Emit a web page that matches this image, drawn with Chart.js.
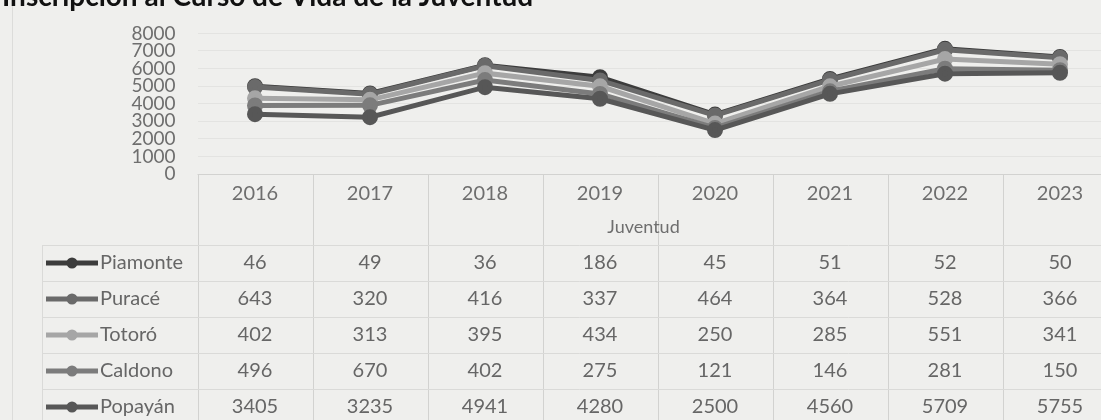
<!DOCTYPE html>
<html>
<head>
<meta charset="utf-8">
<script src="https://cdn.jsdelivr.net/npm/chart.js@4/dist/chart.umd.min.js"></script>
<style>
  html, body { margin: 0; padding: 0; background: #efefed; overflow: hidden; }
  #wrap { position: relative; width: 1101px; height: 420px; overflow: hidden; }
  #box { position: absolute; left: 0; top: 0; width: 1130px; height: 420px; }
</style>
</head>
<body>
<div id="wrap"><div id="box"><canvas id="c" width="1130" height="420"></canvas></div></div>
<script>
const titleText = 'Inscripción al Curso de Vida de la Juventud';
const axisTitle = 'Juventud';
const years = ['2016','2017','2018','2019','2020','2021','2022','2023'];
const yTicks = [0,1000,2000,3000,4000,5000,6000,7000,8000];

const piamonte = [46, 49, 36, 186, 45, 51, 52, 50];
const purace   = [643, 320, 416, 337, 464, 364, 528, 366];
const totoro   = [402, 313, 395, 434, 250, 285, 551, 341];
const caldono  = [496, 670, 402, 275, 121, 146, 281, 150];
const popayan  = [3405, 3235, 4941, 4280, 2500, 4560, 5709, 5755];

const seriesNames  = ['Piamonte', 'Puracé', 'Totoró', 'Caldono', 'Popayán'];
const seriesValues = [piamonte, purace, totoro, caldono, popayan];
const seriesColors = ['#3c3c3c', '#6a6a6a', '#a6a6a6', '#7c7c7c', '#575757'];

const FONT = 'Lato, "Open Sans", sans-serif';

// Stack from bottom (Popayán) to top (Piamonte)
const datasets = [];
for (let i = seriesNames.length - 1; i >= 0; i--) {
  datasets.push({
    label: seriesNames[i],
    data: seriesValues[i],
    borderColor: seriesColors[i],
    backgroundColor: seriesColors[i],
    pointBackgroundColor: seriesColors[i],
    pointBorderColor: seriesColors[i],
    borderWidth: 5,
    pointRadius: 5.5,
    pointHoverRadius: 5.5,
    fill: false,
    tension: 0
  });
}

const tablePlugin = {
  id: 'tablePlugin',
  beforeDraw(chart) {
    const ctx = chart.ctx;
    ctx.save();
    ctx.fillStyle = '#efefed';
    ctx.fillRect(0, 0, chart.width, chart.height);
    ctx.restore();
  },
  afterDraw(chart) {
    const ctx = chart.ctx;
    const x = chart.scales.x;
    const area = chart.chartArea;
    const n = years.length;
    const colW = x.getPixelForValue(1) - x.getPixelForValue(0);
    const leftEdge = x.getPixelForValue(0) - colW / 2;
    const rightEdge = x.getPixelForValue(n - 1) + colW / 2;
    const rowTop0 = 245, rowH = 36;
    const tableBottom = rowTop0 + rowH * seriesNames.length;
    ctx.save();
    ctx.strokeStyle = '#dcdcda';
    ctx.lineWidth = 1;
    ctx.beginPath(); ctx.moveTo(12.5, 0); ctx.lineTo(12.5, 420); ctx.stroke();

    ctx.strokeStyle = '#d2d2d0';
    ctx.beginPath(); ctx.moveTo(leftEdge, area.bottom + 0.5); ctx.lineTo(rightEdge, area.bottom + 0.5); ctx.stroke();
    for (let i = 0; i <= n; i++) {
      const xx = Math.round(leftEdge + i * colW) + 0.5;
      ctx.beginPath(); ctx.moveTo(xx, area.bottom); ctx.lineTo(xx, tableBottom); ctx.stroke();
    }
    ctx.strokeStyle = '#dadad8';
    for (let r = 0; r <= seriesNames.length; r++) {
      const yy = rowTop0 + r * rowH + 0.5;
      ctx.beginPath(); ctx.moveTo(42, yy); ctx.lineTo(rightEdge, yy); ctx.stroke();
    }
    ctx.beginPath(); ctx.moveTo(42.5, rowTop0); ctx.lineTo(42.5, tableBottom); ctx.stroke();

    ctx.font = '20px ' + FONT;
    ctx.fillStyle = '#6e6e6e';
    ctx.textAlign = 'center';
    ctx.textBaseline = 'middle';
    years.forEach((yv, i) => ctx.fillText(yv, x.getPixelForValue(i), 194));
    ctx.font = '18px ' + FONT;
    ctx.fillText(axisTitle, (leftEdge + rightEdge) / 2 - 14, 227);

    seriesNames.forEach((name, r) => {
      const cy = rowTop0 + r * rowH + rowH / 2;
      ctx.strokeStyle = seriesColors[r];
      ctx.lineWidth = 5;
      ctx.beginPath(); ctx.moveTo(46, cy); ctx.lineTo(98, cy); ctx.stroke();
      ctx.fillStyle = seriesColors[r];
      ctx.beginPath(); ctx.arc(72, cy, 5.5, 0, Math.PI * 2); ctx.fill();
      ctx.lineWidth = 1;
      ctx.fillStyle = '#666666';
      ctx.font = '20px ' + FONT;
      ctx.textAlign = 'left';
      ctx.fillText(name, 100, cy);
      ctx.textAlign = 'center';
      seriesValues[r].forEach((v, i) => ctx.fillText(String(v), x.getPixelForValue(i), cy));
    });

    ctx.font = 'bold 28px ' + FONT;
    ctx.fillStyle = '#111111';
    ctx.textAlign = 'left';
    ctx.textBaseline = 'alphabetic';
    ctx.fillText(titleText, 2, 6);
    ctx.restore();
  }
};

new Chart(document.getElementById('c'), {
  type: 'line',
  data: { labels: years, datasets: datasets },
  options: {
    responsive: false,
    animation: false,
    events: [],
    layout: { padding: { top: 22, bottom: 246, right: 12.5, left: 0 } },
    plugins: { legend: { display: false }, tooltip: { enabled: false } },
    scales: {
      x: {
        display: false,
        offset: true
      },
      y: {
        stacked: true,
        min: 0,
        max: 8000,
        afterBuildTicks(scale) { scale.ticks = yTicks.map(v => ({ value: v })); },
        afterFit(scale) { scale.width = 197.5; },
        border: { display: false },
        grid: { color: '#e3e3e1', drawTicks: false },
        ticks: {
          padding: 22,
          color: '#6e6e6e',
          font: { family: FONT, size: 19 },
          autoSkip: false,
          callback: (v) => String(v)
        }
      }
    }
  },
  plugins: [tablePlugin]
});
</script>
</body>
</html>
